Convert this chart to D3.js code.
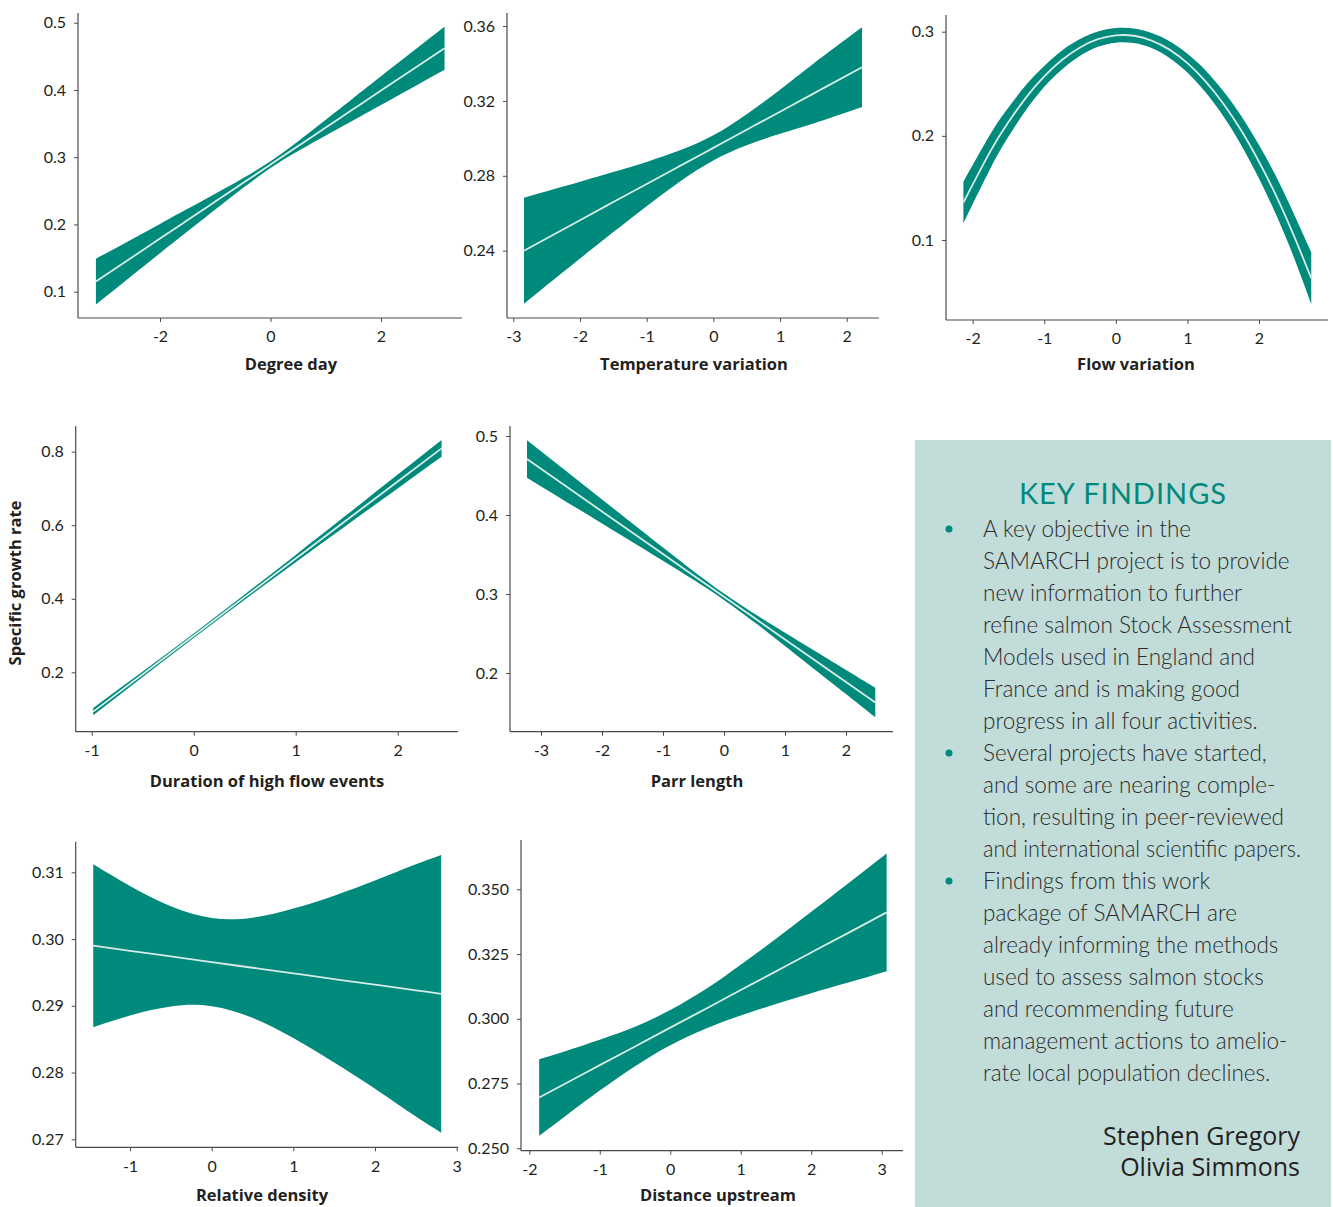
<!DOCTYPE html>
<html><head><meta charset="utf-8">
<script src="https://cdn.jsdelivr.net/npm/d3@7"></script>
<style>body{margin:0;background:#fff;} svg{display:block;}</style>
</head><body>
<svg id="chart" width="1333" height="1207"></svg>
<script>
// ---------- DATA ----------
const panelTitles = ["Degree day","Temperature variation","Flow variation","Duration of high flow events","Parr length","Relative density","Distance upstream"];

const degreeDayX     = [-3.16,-2,-1.5,-1,-0.5,0,0.5,1,1.5,2,3.15];
const degreeDayFit   = [0.115,0.179,0.2065,0.234,0.2615,0.289,0.3165,0.344,0.3715,0.399,0.462];
const degreeDayLower = [0.081,0.1572,0.1898,0.2223,0.2542,0.284,0.3092,0.3323,0.3548,0.3775,0.430];
const degreeDayUpper = [0.149,0.2008,0.2232,0.2457,0.2688,0.294,0.3238,0.3557,0.3882,0.4205,0.494];

const tempVarX     = [-2.84,-2,-1.5,-1,-0.5,0,0.5,1,1.5,2.23];
const tempVarFit   = [0.240,0.2563,0.2660,0.2756,0.2853,0.2949,0.3046,0.3142,0.3239,0.338];
const tempVarLower = [0.2117,0.2358,0.2500,0.2638,0.2770,0.2882,0.2963,0.3024,0.3079,0.3167];
const tempVarUpper = [0.2683,0.2768,0.2820,0.2874,0.2936,0.3016,0.3129,0.3260,0.3399,0.3593];

const flowVarX     = [-2.13,-1.75,-1.5,-1.25,-1,-0.75,-0.5,-0.25,0,0.25,0.5,0.75,1,1.25,1.5,1.75,2,2.25,2.5,2.73];
const flowVarFit   = [0.136,0.1856,0.2133,0.2372,0.2571,0.2730,0.2849,0.2928,0.2965,0.2961,0.2915,0.2828,0.2698,0.2526,0.2311,0.2053,0.1751,0.1410,0.1021,0.0632];
const flowVarLower = [0.116,0.1691,0.1993,0.2252,0.2471,0.2640,0.2769,0.2855,0.2895,0.2891,0.2843,0.2748,0.2608,0.2421,0.2191,0.1913,0.1591,0.1225,0.0811,0.0382];
const flowVarUpper = [0.156,0.2021,0.2273,0.2492,0.2671,0.2820,0.2929,0.3001,0.3035,0.3031,0.2987,0.2908,0.2788,0.2631,0.2431,0.2193,0.1911,0.1595,0.1231,0.0882];

const durationX     = [-0.985,-0.5,0,0.5,1,1.5,2,2.43];
const durationFit   = [0.093,0.1947,0.2996,0.4045,0.5093,0.6142,0.719,0.809];
const durationLower = [0.083,0.1872,0.2936,0.3975,0.4993,0.6002,0.700,0.786];
const durationUpper = [0.103,0.2022,0.3056,0.4115,0.5193,0.6282,0.738,0.832];

const parrX     = [-3.23,-2,-1,-0.5,0,0.5,1,2,2.48];
const parrFit   = [0.471,0.4045,0.3505,0.3235,0.2965,0.2695,0.2425,0.1885,0.1626];
const parrLower = [0.4473,0.3893,0.3422,0.3181,0.2925,0.2641,0.2342,0.1733,0.1439];
const parrUpper = [0.4947,0.4197,0.3588,0.3289,0.3005,0.2749,0.2508,0.2037,0.1813];

const densityX     = [-1.45,-1,-0.5,0,0.5,1,1.5,2,2.5,2.81];
const densityFit   = [0.2990,0.29824,0.2974,0.29655,0.2957,0.29486,0.2940,0.29317,0.2923,0.2918];
const densityLower = [0.2868,0.28854,0.2899,0.28995,0.2882,0.28516,0.2815,0.27757,0.2734,0.2710];
const densityUpper = [0.3112,0.30794,0.3049,0.30315,0.3032,0.30456,0.3065,0.30877,0.3112,0.3126];

const distanceX     = [-1.86,-1.5,-1,-0.5,0,0.5,1,1.5,2,2.5,3.07];
const distanceFit   = [0.2696,0.2748,0.2821,0.2893,0.2966,0.3038,0.3111,0.3183,0.3256,0.3328,0.3411];
const distanceLower = [0.2548,0.2622,0.2723,0.2817,0.2898,0.2962,0.3013,0.3057,0.3099,0.3138,0.3184];
const distanceUpper = [0.2844,0.2874,0.2919,0.2969,0.3034,0.3114,0.3209,0.3309,0.3413,0.3518,0.3638];

// tick values and labels
const xTickValues = [[-2,0,2],[-3,-2,-1,0,1,2],[-2,-1,0,1,2],[-1,0,1,2],[-3,-2,-1,0,1,2],[-1,0,1,2,3],[-2,-1,0,1,2,3]];
const yTickValues = [[0.1,0.2,0.3,0.4,0.5],[0.24,0.28,0.32,0.36],[0.1,0.2,0.3],[0.2,0.4,0.6,0.8],[0.2,0.3,0.4,0.5],[0.27,0.28,0.29,0.30,0.31],[0.25,0.275,0.3,0.325,0.35]];
const yTickLabels = [["0.1","0.2","0.3","0.4","0.5"],["0.24","0.28","0.32","0.36"],["0.1","0.2","0.3"],["0.2","0.4","0.6","0.8"],["0.2","0.3","0.4","0.5"],["0.27","0.28","0.29","0.30","0.31"],["0.250","0.275","0.300","0.325","0.350"]];

const yAxisTitle = "Specific growth rate";
const boxTitle = "KEY FINDINGS";
const boxLines = [
 "A key objective in the","SAMARCH project is to provide","new information to further","refine salmon Stock Assessment",
 "Models used in England and","France and is making good","progress in all four activities.",
 "Several projects have started,","and some are nearing comple-","tion, resulting in peer-reviewed","and international scientific papers.",
 "Findings from this work","package of SAMARCH are","already informing the methods","used to assess salmon stocks",
 "and recommending future","management actions to amelio-","rate local population declines."];
const bulletLines = [0,7,11];
const authors = ["Stephen Gregory","Olivia Simmons"];

// ---------- LAYOUT (positions only) ----------
const layout = [
 {xd:[-2,2],xr:[160,381],yd:[0.1,0.5],yr:[291.7,22.7],left:78,right:462,top:13,bottom:318,titleX:291,titleY:370},
 {xd:[-3,2],xr:[513.3,846.7],yd:[0.24,0.36],yr:[250.7,26],left:507,right:879,top:13,bottom:318,titleX:694,titleY:370},
 {xd:[-2,2],xr:[972.7,1259],yd:[0.1,0.3],yr:[240,31.7],left:946,right:1328,top:15,bottom:320,titleX:1136,titleY:370},
 {xd:[-1,2],xr:[91.7,397.7],yd:[0.2,0.8],yr:[672.3,451.7],left:75.7,right:458,top:426,bottom:731.7,titleX:267,titleY:787},
 {xd:[-3,2],xr:[541,846],yd:[0.2,0.5],yr:[673,436],left:510,right:893,top:426,bottom:731.7,titleX:697,titleY:787},
 {xd:[-1,3],xr:[130,456.7],yd:[0.27,0.31],yr:[1139.3,872.3],left:75.7,right:458.3,top:841.7,bottom:1147.3,titleX:262,titleY:1201},
 {xd:[-2,3],xr:[529.3,881.7],yd:[0.25,0.35],yr:[1148.3,889.3],left:521,right:903,top:840,bottom:1150.7,titleX:718,titleY:1201}
];

const series = [
 [degreeDayX,degreeDayFit,degreeDayLower,degreeDayUpper],
 [tempVarX,tempVarFit,tempVarLower,tempVarUpper],
 [flowVarX,flowVarFit,flowVarLower,flowVarUpper],
 [durationX,durationFit,durationLower,durationUpper],
 [parrX,parrFit,parrLower,parrUpper],
 [densityX,densityFit,densityLower,densityUpper],
 [distanceX,distanceFit,distanceLower,distanceUpper]
];

const TEAL = "#008a7c", INK = "#231f20", FONT = "Lato, 'Open Sans', sans-serif";
const TITLEFONT = "'Open Sans', Lato, sans-serif";
const svg = d3.select("#chart");

layout.forEach((L, i) => {
  const x = d3.scaleLinear().domain(L.xd).range(L.xr);
  const y = d3.scaleLinear().domain(L.yd).range(L.yr);
  const [xs, fit, lo, hi] = series[i];
  const pts = xs.map((v, k) => ({x: v, f: fit[k], lo: lo[k], hi: hi[k]}));
  const g = svg.append("g");

  g.append("path").datum(pts)
    .attr("d", d3.area().x(d => x(d.x)).y0(d => y(d.lo)).y1(d => y(d.hi)).curve(d3.curveNatural))
    .attr("fill", TEAL);
  g.append("path").datum(pts)
    .attr("d", d3.line().x(d => x(d.x)).y(d => y(d.f)).curve(d3.curveNatural))
    .attr("fill", "none").attr("stroke", "#d6ece8").attr("stroke-width", 1.8);

  // axes
  const ax = g.append("g").attr("transform", `translate(0,${L.bottom})`)
    .call(d3.axisBottom(x).tickValues(xTickValues[i]).tickFormat(d3.format("d")).tickSize(4).tickPadding(9));
  const ay = g.append("g").attr("transform", `translate(${L.left},0)`)
    .call(d3.axisLeft(y).tickValues(yTickValues[i]).tickFormat((d, k) => yTickLabels[i][k]).tickSize(4).tickPadding(8));
  [ax, ay].forEach(a => {
    a.select(".domain").remove();
    a.selectAll("line").attr("stroke", "#4a4a4a").attr("stroke-width", 1);
    a.selectAll("text").attr("fill", INK).style("font-family", FONT).style("font-size", "16px");
  });
  ax.selectAll("text").text(d => d < 0 ? "-" + Math.abs(d) : String(d));
  g.append("line").attr("x1", L.left).attr("x2", L.right).attr("y1", L.bottom).attr("y2", L.bottom)
    .attr("stroke", "#4a4a4a").attr("stroke-width", 1.2);
  g.append("line").attr("x1", L.left).attr("x2", L.left).attr("y1", L.top).attr("y2", L.bottom)
    .attr("stroke", "#4a4a4a").attr("stroke-width", 1.2);

  g.append("text").attr("x", L.titleX).attr("y", L.titleY).attr("text-anchor", "middle")
    .attr("fill", INK).style("font-family", TITLEFONT).style("font-weight", 700).style("font-size", "16.5px")
    .text(panelTitles[i]);
});

svg.append("text").attr("transform", "translate(21,583) rotate(-90)").attr("text-anchor", "middle")
  .attr("fill", INK).style("font-family", TITLEFONT).style("font-weight", 700).style("font-size", "16.5px")
  .text(yAxisTitle);

// key findings box
svg.append("rect").attr("x", 915).attr("y", 440).attr("width", 416).attr("height", 767).attr("fill", "#c2dcd9");
svg.append("text").attr("x", 1123).attr("y", 504).attr("text-anchor", "middle").attr("fill", TEAL)
  .style("font-family", FONT).style("font-size", "29px").style("letter-spacing", "1px").text(boxTitle);
const body = svg.append("g");
boxLines.forEach((t, k) => {
  const tx = body.append("text").attr("x", 983).attr("y", 537 + 32 * k).attr("fill", "#2b2b2b")
    .style("font-family", FONT).style("font-weight", 300).style("font-size", "22.5px").text(t);
  const w = tx.node().getComputedTextLength();
  if (w > 318) tx.attr("textLength", 318).attr("lengthAdjust", "spacingAndGlyphs");
});
bulletLines.forEach(k => {
  body.append("circle").attr("cx", 949).attr("cy", 529 + 32 * k).attr("r", 3.5).attr("fill", TEAL);
});
authors.forEach((a, k) => {
  svg.append("text").attr("x", 1300).attr("y", 1145 + 31 * k).attr("text-anchor", "end").attr("fill", INK)
    .style("font-family", "'Open Sans', sans-serif").style("font-size", "25px").text(a);
});
</script>
</body></html>
